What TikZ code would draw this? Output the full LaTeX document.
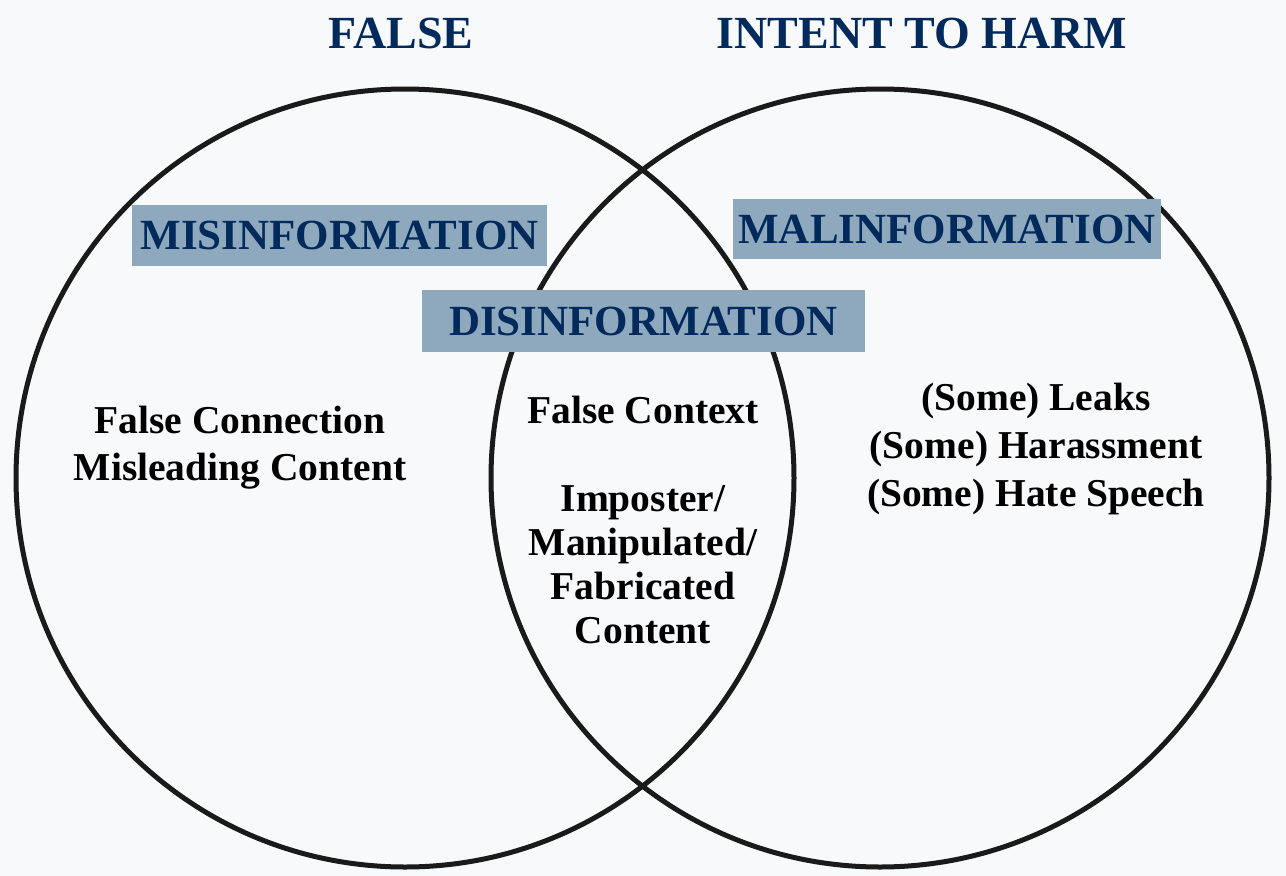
\documentclass[tikz,border=0pt]{standalone}
\usepackage{fontspec}
\setmainfont{Liberation Serif}
\usepackage{tikz}
\usetikzlibrary{positioning}

\definecolor{pagebg}{HTML}{F8F9FB}
\definecolor{navy}{HTML}{002A5C}
\definecolor{tagfill}{HTML}{8EA9BE}
\definecolor{ring}{HTML}{1A1A1A}

\begin{document}
\begin{tikzpicture}[
  x=1pt, y=-1pt,
  circ/.style={draw=ring, line width=5pt},
  heading/.style={font=\fontsize{46}{50}\selectfont\bfseries, text=navy},
  tag/.style={fill=tagfill, inner sep=0pt, font=\fontsize{43}{46}\selectfont\bfseries,
    text=navy},
  items/.style={align=center, font=\fontsize{39.5}{47}\selectfont\bfseries, text=black},
]

% background and page size
\path[fill=pagebg, use as bounding box] (0,0) rectangle (1286,876);

% === The two sets ===
\draw[circ] (405,478) circle[radius=389];
\draw[circ] (880,478) circle[radius=389];

\node[heading] (hfalse) at (401,33) {FALSE};
\node[heading] (hharm) at (922,33) {INTENT TO HARM};

% === Category tags ===
\node[tag, minimum width=415pt, minimum height=61pt] (mis) at (339.5,235.5)
  {MISINFORMATION};
\node[tag, minimum width=428pt, minimum height=60pt] (mal) at (947,229)
  {MALINFORMATION};
\node[tag, minimum width=443pt, minimum height=62pt] (dis) at (643.5,321)
  {DISINFORMATION};

% === Examples in each region ===
\node[items] (leftitems) at (240,448)
  {False Connection\\Misleading Content};
\node[items, font=\fontsize{39.5}{44}\selectfont\bfseries] (lensitems) at (643,520)
  {False Context\\[44pt]Imposter/\\Manipulated/\\Fabricated\\Content};
\node[items, font=\fontsize{39.5}{48}\selectfont\bfseries] (rightitems) at (1036,449)
  {(Some) Leaks\\(Some) Harassment\\(Some) Hate Speech};

\end{tikzpicture}
\end{document}
